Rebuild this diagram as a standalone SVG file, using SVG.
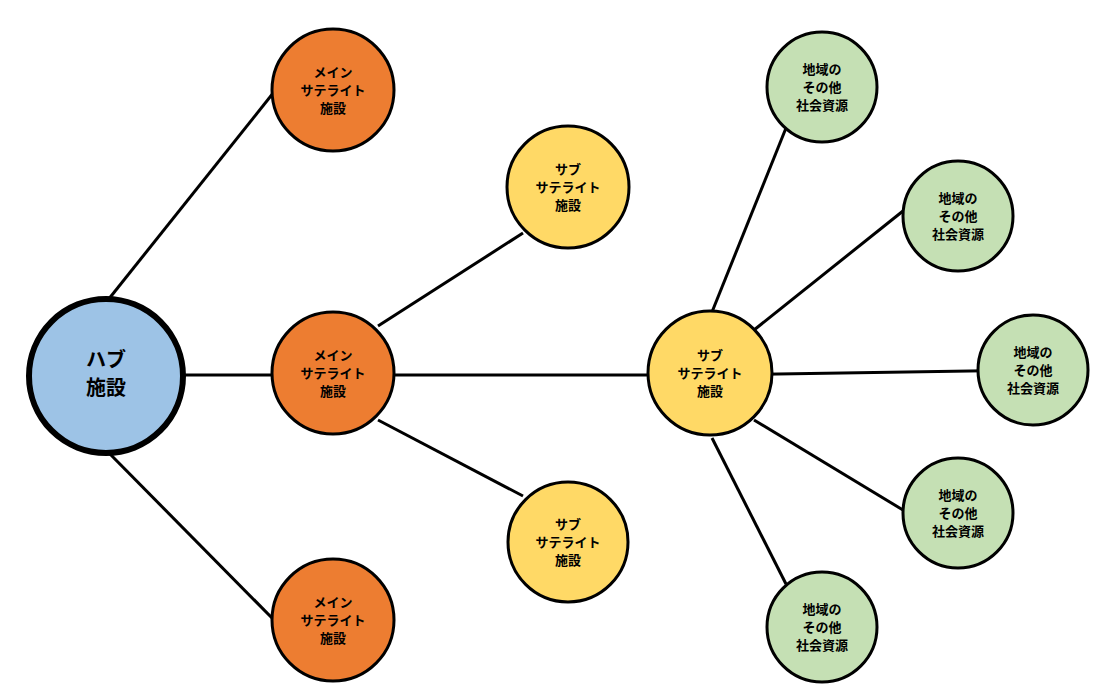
<svg xmlns="http://www.w3.org/2000/svg" width="1120" height="694" viewBox="0 0 1120 694">
<style>
.c{stroke:#000;stroke-width:3}
.m{fill:#ed7d31}.s{fill:#ffd966}.g{fill:#c5e0b4}.h{fill:#9dc3e6;stroke:#000;stroke-width:6}
line{stroke:#000;stroke-width:3}
text{font-family:"Noto Sans CJK JP",sans-serif;font-size:13px;font-weight:bold;text-anchor:middle;fill:#000}
.ht{font-size:20px}
</style>
<rect width="1120" height="694" fill="#fff"/>
<g id="connectors">
<line x1="108" y1="300" x2="274" y2="92"/>
<line x1="106" y1="375" x2="333" y2="375"/>
<line x1="108" y1="452" x2="274" y2="620"/>
<line x1="378" y1="326" x2="523" y2="233"/>
<line x1="378" y1="420" x2="523" y2="496"/>
<line x1="333" y1="375" x2="710" y2="375"/>
<line x1="712" y1="312" x2="786" y2="128"/>
<line x1="754" y1="330" x2="903" y2="211"/>
<line x1="710" y1="375" x2="1033" y2="370"/>
<line x1="754" y1="420" x2="903" y2="510"/>
<line x1="712" y1="438" x2="786" y2="584"/>
</g>
<g id="hub"><circle class="h" cx="106" cy="376" r="77"/><text class="ht" x="106" y="367">ハブ</text><text class="ht" x="106" y="395">施設</text></g>
<g id="main1"><circle class="c m" cx="333" cy="90" r="61"/><text x="333" y="77">メイン</text><text x="333" y="95">サテライト</text><text x="333" y="113">施設</text></g>
<g id="main2"><circle class="c m" cx="333" cy="373" r="61"/><text x="333" y="360">メイン</text><text x="333" y="378">サテライト</text><text x="333" y="396">施設</text></g>
<g id="main3"><circle class="c m" cx="333" cy="620" r="61"/><text x="333" y="607">メイン</text><text x="333" y="625">サテライト</text><text x="333" y="643">施設</text></g>
<g id="sub1"><circle class="c s" cx="568" cy="187" r="61"/><text x="568" y="174">サブ</text><text x="568" y="192">サテライト</text><text x="568" y="210">施設</text></g>
<g id="sub2"><circle class="c s" cx="568" cy="542" r="60"/><text x="568" y="529">サブ</text><text x="568" y="547">サテライト</text><text x="568" y="565">施設</text></g>
<g id="sub3"><circle class="c s" cx="710" cy="373" r="62"/><text x="710" y="360">サブ</text><text x="710" y="378">サテライト</text><text x="710" y="396">施設</text></g>
<g id="g1"><circle class="c g" cx="822" cy="87" r="55"/><text x="822" y="74">地域の</text><text x="822" y="92">その他</text><text x="822" y="110">社会資源</text></g>
<g id="g2"><circle class="c g" cx="958" cy="216" r="55"/><text x="958" y="203">地域の</text><text x="958" y="221">その他</text><text x="958" y="239">社会資源</text></g>
<g id="g3"><circle class="c g" cx="1033" cy="370" r="55"/><text x="1033" y="357">地域の</text><text x="1033" y="375">その他</text><text x="1033" y="393">社会資源</text></g>
<g id="g4"><circle class="c g" cx="958" cy="513" r="55"/><text x="958" y="500">地域の</text><text x="958" y="518">その他</text><text x="958" y="536">社会資源</text></g>
<g id="g5"><circle class="c g" cx="822" cy="627" r="55"/><text x="822" y="614">地域の</text><text x="822" y="632">その他</text><text x="822" y="650">社会資源</text></g>
</svg>
